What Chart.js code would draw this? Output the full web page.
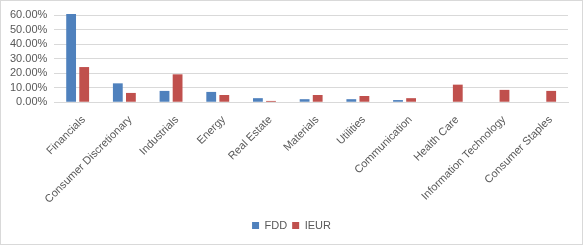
<!DOCTYPE html>
<html>
<head>
<meta charset="utf-8">
<script src="https://cdn.jsdelivr.net/npm/chart.js@4.4.1/dist/chart.umd.min.js"></script>
<style>
  html, body { margin: 0; padding: 0; background: #fff; }
  #wrap { position: relative; width: 581px; height: 243px; border: 1px solid #d9d9d9; }
</style>
</head>
<body>
<div id="wrap"><canvas id="chart"></canvas></div>
<script>
// sector weights in percent
const sectors = ["Financials", "Consumer Discretionary", "Industrials", "Energy", "Real Estate",
  "Materials", "Utilities", "Communication", "Health Care", "Information Technology", "Consumer Staples"];
const fddWeights = [60.7, 13.0, 7.8, 7.1, 2.8, 2.1, 2.1, 1.5, 0, 0, 0];
const ieurWeights = [24.2, 6.4, 19.2, 5.0, 0.9, 5.0, 4.3, 2.8, 12.1, 8.5, 7.8];
const yTicks = [0, 10, 20, 30, 40, 50, 60];

const textColor = "#595959";
const gridColor = "#d9d9d9";

// centre the legend on the whole canvas, not on the padded area
const shiftLegend = {
  id: "shiftLegend",
  afterLayout(chart) {
    if (chart.legend) {
      chart.legend.left += 6;
      chart.legend.right += 6;
    }
  },
};

new Chart(document.getElementById("chart").getContext("2d"), {
  type: "bar",
  data: {
    labels: sectors,
    datasets: [
      {
        label: "FDD",
        data: fddWeights,
        backgroundColor: "#4f81bd",
        barPercentage: 0.75,
        categoryPercentage: 0.56,
        clip: false,
      },
      {
        label: "IEUR",
        data: ieurWeights,
        backgroundColor: "#c0504d",
        barPercentage: 0.75,
        categoryPercentage: 0.56,
        clip: false,
      },
    ],
  },
  options: {
    responsive: true,
    maintainAspectRatio: false,
    animation: false,
    layout: { padding: { left: 2, right: 14, top: 14, bottom: 3 } },
    scales: {
      y: {
        min: 0,
        max: 60,
        afterBuildTicks: (axis) => { axis.ticks = yTicks.map((v) => ({ value: v })); },
        ticks: {
          color: textColor,
          font: { family: "Liberation Sans", size: 11 },
          padding: 7,
          autoSkip: false,
          callback: (v) => v.toFixed(2) + "%",
        },
        grid: { color: gridColor, drawTicks: false },
        border: { display: false },
      },
      x: {
        afterFit: (scale) => { scale.height += 6; },
        ticks: {
          color: textColor,
          font: { family: "Liberation Sans", size: 11 },
          minRotation: 45,
          maxRotation: 45,
          autoSkip: false,
          labelOffset: 6,
        },
        grid: { display: false },
        border: { color: gridColor },
      },
    },
    plugins: {
      legend: {
        position: "bottom",
        labels: {
          color: textColor,
          font: { family: "Liberation Sans", size: 11 },
          boxWidth: 7,
          boxHeight: 7,
          padding: 5,
        },
      },
      tooltip: { enabled: false },
    },
  },
  plugins: [shiftLegend],
});
</script>
</body>
</html>
